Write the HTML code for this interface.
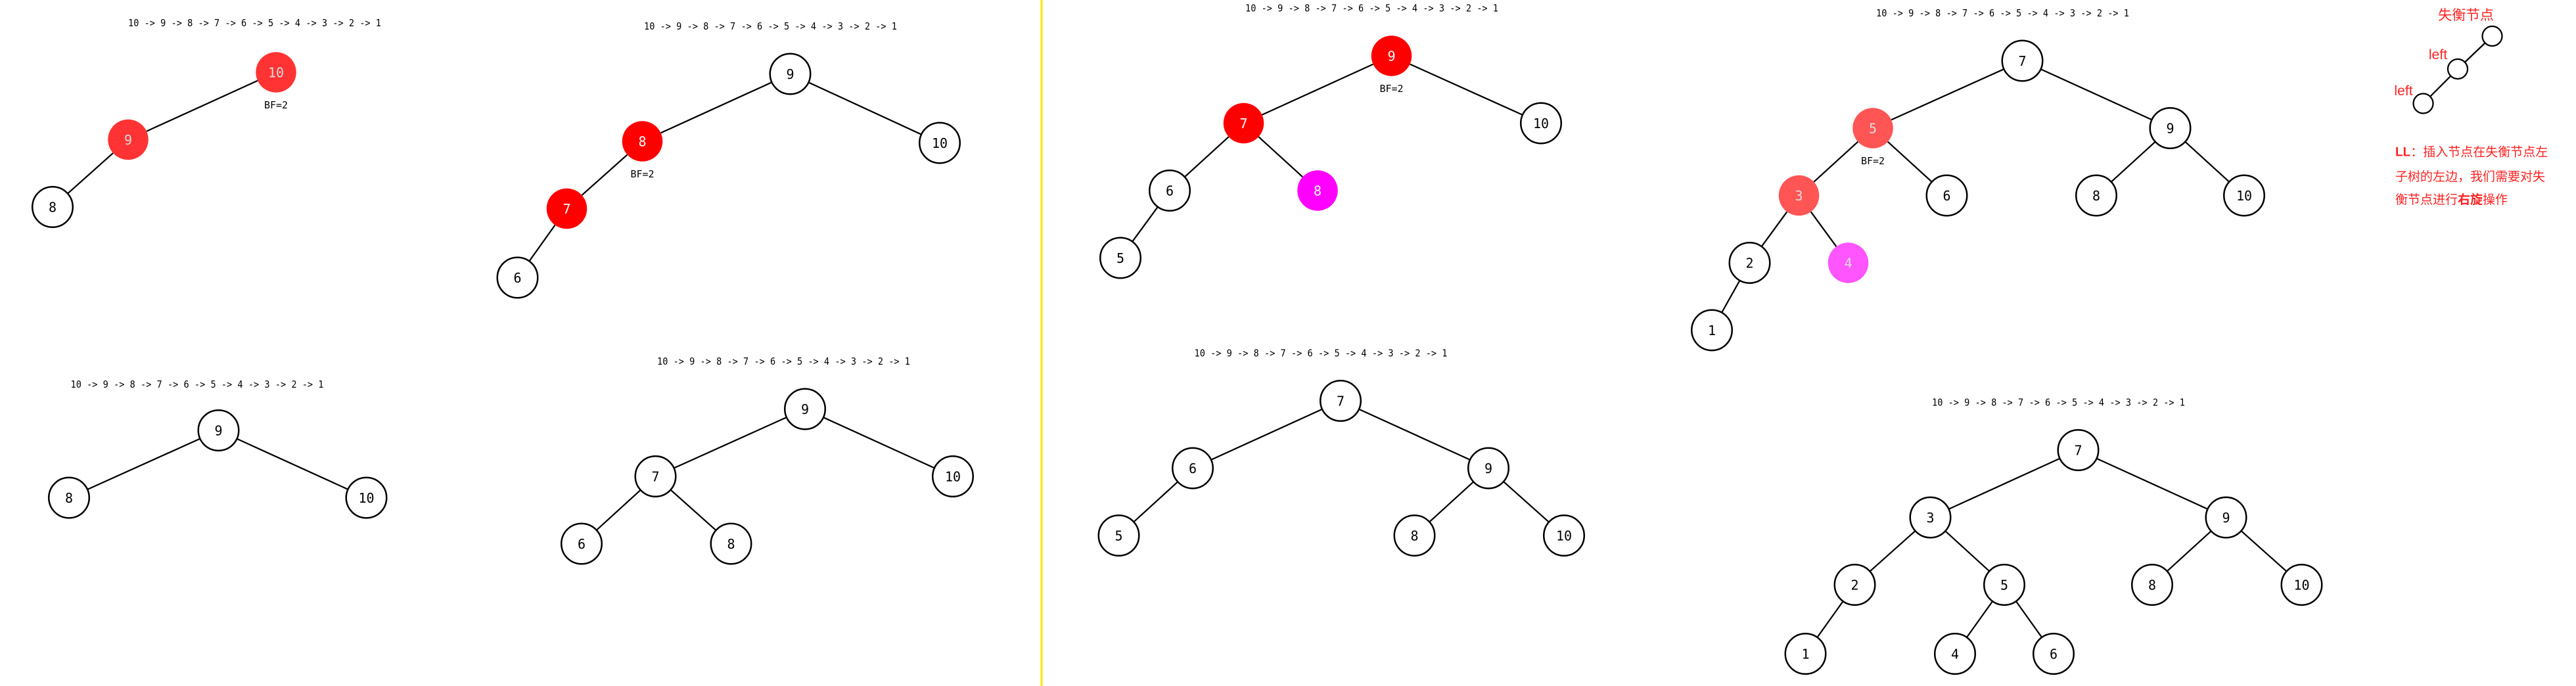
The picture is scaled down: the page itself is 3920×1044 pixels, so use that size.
<!DOCTYPE html>
<html><head><meta charset="utf-8">
<style>
html,body{margin:0;padding:0;background:#fff;width:3920px;height:1044px;overflow:hidden}
svg text{font-family:"DejaVu Sans Mono","Liberation Mono",monospace}
.cjk{font-family:"Liberation Sans","Noto Sans CJK SC",sans-serif !important}
</style></head>
<body>
<svg id="chart" xmlns="http://www.w3.org/2000/svg" width="3920" height="1044" viewBox="0 0 1568 417.6">
<line x1="634" y1="0" x2="634" y2="417.6" stroke="#ffe600" stroke-width="1.2"/>
<g id="trees"></g>
<g>
<text class="cjk" x="1501" y="12" font-size="8.5" fill="#f22" text-anchor="middle">失衡节点</text>
<line x1="1517" y1="22" x2="1496" y2="42" stroke="#000" stroke-width="0.9"/>
<line x1="1496" y1="42" x2="1475" y2="63" stroke="#000" stroke-width="0.9"/>
<circle cx="1517" cy="22" r="6" fill="#fff" stroke="#000" stroke-width="0.9"/>
<circle cx="1496" cy="42" r="6" fill="#fff" stroke="#000" stroke-width="0.9"/>
<circle cx="1475" cy="63" r="6" fill="#fff" stroke="#000" stroke-width="0.9"/>
<text class="cjk" x="1484" y="36" font-size="8.5" fill="#f22" text-anchor="middle">left</text>
<text class="cjk" x="1463" y="58" font-size="8.5" fill="#f22" text-anchor="middle">left</text>
<text class="cjk" x="1458" y="95" font-size="7.6" fill="#f22"><tspan font-weight="bold">LL</tspan>：插入节点在失衡节点左</text>
<text class="cjk" x="1458" y="110" font-size="7.6" fill="#f22">子树的左边，我们需要对失</text>
<text class="cjk" x="1458" y="124" font-size="7.6" fill="#f22">衡节点进行<tspan font-weight="bold">右旋</tspan>操作</text>
</g>
</svg>
<script>
// Tree data: [label, x, y, fill, parentIndex]
const titles = [[155,16],[469,18],[120,236],[477,222],[835,7],[804,217],[1219,10],[1253,247]];
const tree1 = [["10",168,44,"#f33",-1],["9",78,85,"#f33",0],["8",32,126,"#fff",1]];
const tree2 = [["9",481,45,"#fff",-1],["10",572,87,"#fff",0],["8",391,86,"#f00",0],["7",345,127,"#f00",2],["6",315,169,"#fff",3]];
const tree3 = [["9",133,262,"#fff",-1],["8",42,303,"#fff",0],["10",223,303,"#fff",0]];
const tree4 = [["9",490,249,"#fff",-1],["7",399,290,"#fff",0],["10",580,290,"#fff",0],["6",354,331,"#fff",1],["8",445,331,"#fff",1]];
const tree5 = [["9",847,34,"#f00",-1],["7",757,75,"#f00",0],["10",938,75,"#fff",0],["6",712,116,"#fff",1],["8",802,116,"#f0f",1],["5",682,157,"#fff",3]];
const tree6 = [["7",816,244,"#fff",-1],["6",726,285,"#fff",0],["9",906,285,"#fff",0],["5",681,326,"#fff",1],["8",861,326,"#fff",2],["10",952,326,"#fff",2]];
const tree7 = [["7",1231,37,"#fff",-1],["5",1140,78,"#f55",0],["9",1321,78,"#fff",0],["3",1095,119,"#f55",1],["6",1185,119,"#fff",1],["8",1276,119,"#fff",2],["10",1366,119,"#fff",2],["2",1065,160,"#fff",3],["4",1125,160,"#f5f",3],["1",1042,201,"#fff",7]];
const tree8 = [["7",1265,274,"#fff",-1],["3",1175,315,"#fff",0],["9",1355,315,"#fff",0],["2",1129,356,"#fff",1],["5",1220,356,"#fff",1],["8",1310,356,"#fff",2],["10",1401,356,"#fff",2],["1",1099,398,"#fff",3],["4",1190,398,"#fff",4],["6",1250,398,"#fff",4]];
const bfLabels = [[168,64],[391,106],[847,54],[1140,98]];
const trees = [tree1,tree2,tree3,tree4,tree5,tree6,tree7,tree8];
const seqText = "10 -> 9 -> 8 -> 7 -> 6 -> 5 -> 4 -> 3 -> 2 -> 1";

const NS = "http://www.w3.org/2000/svg";
const root = document.getElementById("trees");
const R = 12.3;
function mk(tag, attrs){const e=document.createElementNS(NS,tag);for(const k in attrs)e.setAttribute(k,attrs[k]);return e;}

titles.forEach((t,i)=>{
  const el = mk("text",{x:t[0],y:t[1],"font-size":"6","text-anchor":"middle",fill:"#000",textLength:"154",lengthAdjust:"spacingAndGlyphs"});
  
  
  el.textContent = seqText;
  root.appendChild(el);
});

trees.forEach((tr,ti)=>{
  const g = mk("g",{});
  
  
  tr.forEach(n=>{
    if(n[4]>=0){
      const p = tr[n[4]];
      const dx=n[1]-p[1], dy=n[2]-p[2], d=Math.hypot(dx,dy);
      const ln = mk("line",{x1:p[1]+dx/d*R,y1:p[2]+dy/d*R,x2:n[1]-dx/d*R,y2:n[2]-dy/d*R,stroke:"#000","stroke-width":"0.9"});
      
      
      g.appendChild(ln);
    }
  });
  tr.forEach(n=>{
    const white = n[3]==="#fff";
    const c = mk("circle",{cx:n[1],cy:n[2],r:R,fill:n[3],stroke:white?"#000":"none","stroke-width":"1"});
    
    
    g.appendChild(c);
    const t = mk("text",{x:n[1],y:n[2]+3,"font-size":"8","text-anchor":"middle",fill:white?"#000":(n[3]==="#f00"||n[3]==="#f0f"?"#fff":"#ddd")});
    
    
    t.textContent = n[0];
    g.appendChild(t);
  });
  root.appendChild(g);
});

bfLabels.forEach(b=>{
  const t = mk("text",{x:b[0],y:b[1]+2,"font-size":"6","text-anchor":"middle",fill:"#000"});
  
  
  t.textContent = "BF=2";
  root.appendChild(t);
});
</script>
</body></html>
